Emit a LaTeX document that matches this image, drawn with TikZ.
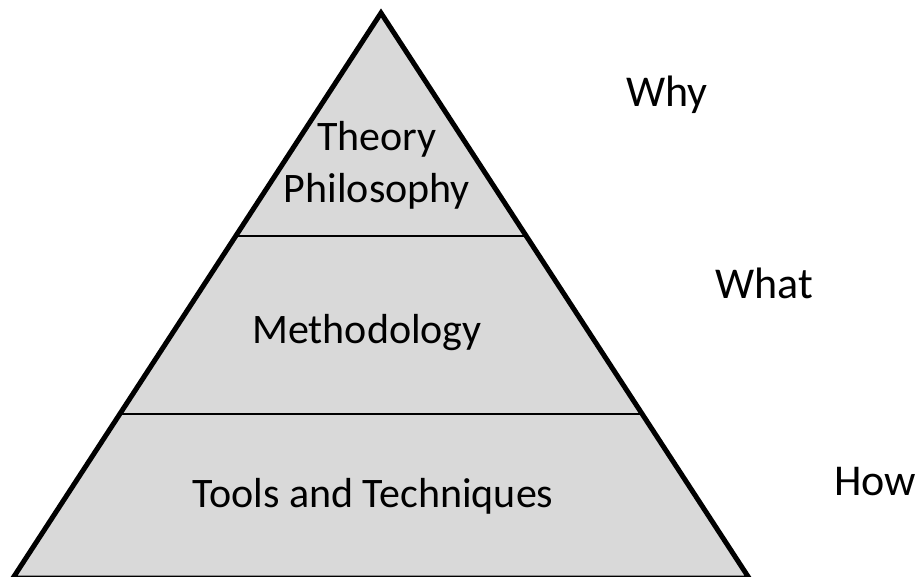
\documentclass[tikz,border=0pt]{standalone}
\usepackage{fontspec}
\setmainfont{Carlito}
\usetikzlibrary{positioning}

\definecolor{layergray}{HTML}{D9D9D9}

\begin{document}
\begin{tikzpicture}[
		x=1pt, y=-1pt,
		font=\fontsize{42}{52}\selectfont,
		label/.style={inner sep=0pt, anchor=base},
		question/.style={label, font=\fontsize{44}{52}\selectfont},
		divider/.style={line width=2.5pt}
	]
	\useasboundingbox (0,0) rectangle (919,577);

	% Pyramide
	\coordinate (apex) at (381,13);
	\coordinate (bl) at (13,578);
	\coordinate (br) at (749,578);
	\filldraw[fill=layergray, line width=5pt, line join=miter] (apex) -- (br) -- (bl) -- cycle;

	% Trennlinien der Ebenen
	\draw[divider] (235,236) -- (527,236);
	\draw[divider] (118,414) -- (644,414);

	% Beschriftung der Ebenen
	\node[label] (theory) at (377,151) {Theory};
	\node[label] (philo) at (377,203) {Philosophy};
	\node[label] (method) at (367,344) {Methodology};
	\node[label] (tools) at (373,507) {Tools and Techniques};

	% Fragen rechts
	\node[question] (why) at (667,107) {Why};
	\node[question] (what) at (764,299) {What};
	\node[question] (how) at (875,495) {How};

\end{tikzpicture}
\end{document}
